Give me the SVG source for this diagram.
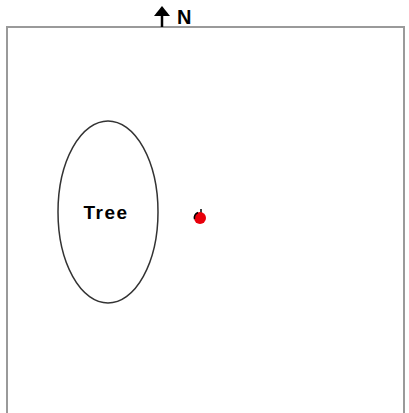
<svg xmlns="http://www.w3.org/2000/svg" width="409" height="413" viewBox="0 0 409 413">
<style>
.border{fill:none;stroke:#9a9a9a;stroke-width:2}
.lbl{font-family:"Liberation Sans",Arial,sans-serif;font-weight:bold;fill:#000}
</style>
<rect width="409" height="413" fill="#fff"/>
<rect class="border" x="7" y="27" width="397" height="392"/>
<g id="north">
<line x1="162" y1="10" x2="162" y2="27" stroke="#000" stroke-width="2.5"/>
<polygon points="154,16 162,6 170,16" fill="#000"/>
<text class="lbl" x="177" y="24" font-size="20">N</text>
</g>
<g id="tree">
<ellipse cx="108" cy="212" rx="50" ry="91" fill="none" stroke="#333" stroke-width="1.5"/>
<text class="lbl" x="106" y="219" font-size="19" letter-spacing="1.5" text-anchor="middle">Tree</text>
</g>
<g id="point">
<line x1="201" y1="209" x2="201" y2="214" stroke="#000" stroke-width="1.5"/>
<circle cx="200" cy="218" r="6" fill="#e8000b"/>
<path d="M194.5,219 A6,6 0 0 1 198,212.5" fill="none" stroke="#000" stroke-width="1.5"/>
</g>
</svg>
